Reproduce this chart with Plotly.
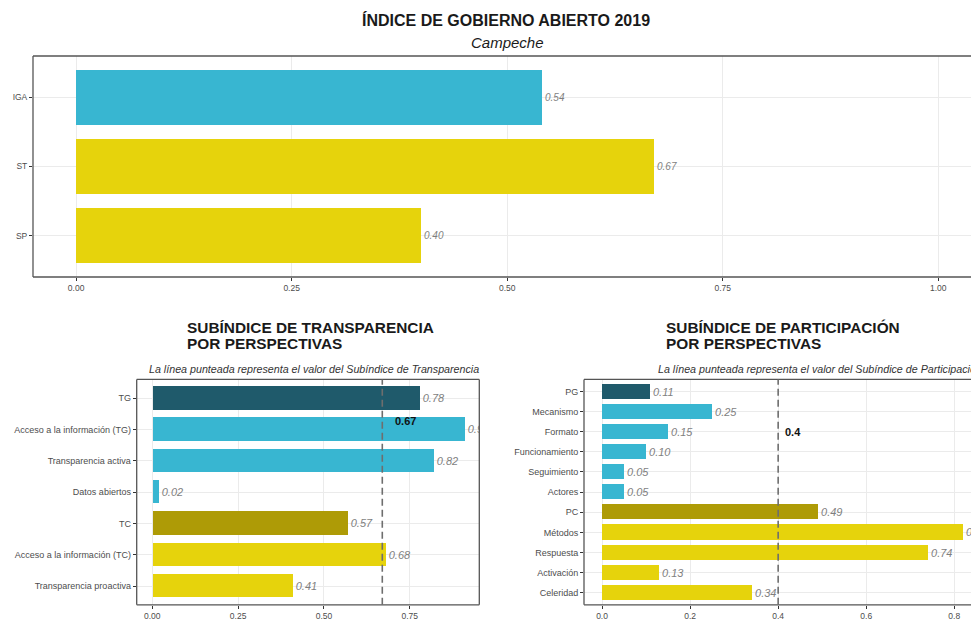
import plotly.graph_objects as go

W, H = 971, 624

# ---------------- data ----------------
top_cats = ["IGA", "ST", "SP"]
top_vals = [0.54, 0.67, 0.40]
top_cols = ["#38B6D1", "#E6D30C", "#E6D30C"]

tr_cats = ["TG", "Acceso a la información (TG)", "Transparencia activa", "Datos abiertos",
           "TC", "Acceso a la información (TC)", "Transparencia proactiva"]
tr_vals = [0.78, 0.91, 0.82, 0.02, 0.57, 0.68, 0.41]
tr_cols = ["#1F5A6B", "#38B6D1", "#38B6D1", "#38B6D1", "#AE9B06", "#E6D30C", "#E6D30C"]
tr_ref = 0.67

pa_cats = ["PG", "Mecanismo", "Formato", "Funcionamiento", "Seguimiento", "Actores",
           "PC", "Métodos", "Respuesta", "Activación", "Celeridad"]
pa_vals = [0.11, 0.25, 0.15, 0.10, 0.05, 0.05, 0.49, 0.82, 0.74, 0.13, 0.34]
pa_cols = ["#1F5A6B", "#38B6D1", "#38B6D1", "#38B6D1", "#38B6D1", "#38B6D1",
           "#AE9B06", "#E6D30C", "#E6D30C", "#E6D30C", "#E6D30C"]
pa_ref = 0.4

FONT = "Liberation Sans, Arial, Helvetica, sans-serif"
GRID = "#EBEBEB"
BORDER = "#555555"
TICKC = "#4D4D4D"
VALC = "#7F7F7F"


def px(x):
    return x / W


def py(y):
    return 1 - y / H


fig = go.Figure()

# top chart
fig.add_trace(go.Bar(
    x=top_vals, y=top_cats, orientation="h", marker=dict(color=top_cols, line=dict(width=0)),
    width=0.8, text=[f"{v:.2f}" for v in top_vals], textposition="outside",
    textfont=dict(family=FONT, size=10, color=VALC, style="italic"),
    constraintext="none", cliponaxis=True, xaxis="x", yaxis="y", hoverinfo="skip",
    showlegend=False))

# transparency
fig.add_trace(go.Bar(
    x=tr_vals, y=tr_cats, orientation="h", marker=dict(color=tr_cols, line=dict(width=0)),
    width=0.75, text=[f"{v:.2f}" for v in tr_vals], textposition="outside",
    textfont=dict(family=FONT, size=11, color=VALC, style="italic"),
    constraintext="none", cliponaxis=True, xaxis="x2", yaxis="y2", hoverinfo="skip",
    showlegend=False))

# participation
fig.add_trace(go.Bar(
    x=pa_vals, y=pa_cats, orientation="h", marker=dict(color=pa_cols, line=dict(width=0)),
    width=0.75, text=[f"{v:.2f}" for v in pa_vals], textposition="outside",
    textfont=dict(family=FONT, size=11, color=VALC, style="italic"),
    constraintext="none", cliponaxis=True, xaxis="x3", yaxis="y3", hoverinfo="skip",
    showlegend=False))

axis_common = dict(showgrid=True, gridcolor=GRID, gridwidth=1, zeroline=False,
                   showline=False, ticks="outside", ticklen=3, tickcolor="#333333",
                   automargin=False, fixedrange=True)

fig.update_layout(
    width=W, height=H, margin=dict(l=0, r=0, t=0, b=0),
    paper_bgcolor="white", plot_bgcolor="white",
    font=dict(family=FONT, color=TICKC),
    bargap=0,
    xaxis=dict(domain=[px(33), 1], range=[-0.05, (971 - 76.7) / 861.6], anchor="y",
               tickvals=[0, 0.25, 0.5, 0.75, 1.0], tickformat=".2f",
               tickfont=dict(size=8.5, color=TICKC), **axis_common),
    yaxis=dict(domain=[py(277), py(56)], anchor="x", type="category",
               categoryarray=top_cats[::-1], range=[-0.6, len(top_cats) - 0.4],
               tickfont=dict(size=8.5, color=TICKC), **axis_common),
    xaxis2=dict(domain=[px(136.7), px(479.3)], range=[-0.0454, 0.9526], anchor="y2",
                tickvals=[0, 0.25, 0.5, 0.75], tickformat=".2f",
                tickfont=dict(size=8.5, color=TICKC), **axis_common),
    yaxis2=dict(domain=[py(604.8), py(379.4)], anchor="x2", type="category",
                categoryarray=tr_cats[::-1], range=[-0.6, len(tr_cats) - 0.4],
                tickfont=dict(size=9, color=TICKC), **axis_common),
    xaxis3=dict(domain=[px(584), 1], range=[-0.041, (971 - 601.7) / 440.7], anchor="y3",
                tickvals=[0, 0.2, 0.4, 0.6, 0.8], tickformat=".1f",
                tickfont=dict(size=8.5, color=TICKC), **axis_common),
    yaxis3=dict(domain=[py(604.8), py(379.4)], anchor="x3", type="category",
                categoryarray=pa_cats[::-1], range=[-0.6, len(pa_cats) - 0.4],
                tickfont=dict(size=9, color=TICKC), **axis_common),
)

shapes = []


def line(x0, y0, x1, y1):
    shapes.append(dict(type="line", xref="paper", yref="paper",
                       x0=px(x0), y0=py(y0), x1=px(x1), y1=py(y1),
                       line=dict(color=BORDER, width=1.3), layer="above"))


# top panel border (right side is off-canvas)
line(33, 56, 975, 56)
line(33, 277, 975, 277)
line(33, 56, 33, 277)
# transparency panel
line(136.7, 379.4, 479.3, 379.4)
line(136.7, 604.8, 479.3, 604.8)
line(136.7, 379.4, 136.7, 604.8)
line(479.3, 379.4, 479.3, 604.8)
# participation panel
line(584, 379.4, 975, 379.4)
line(584, 604.8, 975, 604.8)
line(584, 379.4, 584, 604.8)

# reference dashed lines
shapes.append(dict(type="line", xref="x2", yref="y2 domain", x0=tr_ref, x1=tr_ref, y0=0, y1=1,
                   line=dict(color="#6E6E6E", width=1.6, dash="7px,4px"), layer="above"))
shapes.append(dict(type="line", xref="x3", yref="y3 domain", x0=pa_ref, x1=pa_ref, y0=0, y1=1,
                   line=dict(color="#6E6E6E", width=1.6, dash="7px,4px"), layer="above"))

fig.update_layout(shapes=shapes)

ann = []
ann.append(dict(text="<b>ÍNDICE DE GOBIERNO ABIERTO 2019</b>", x=px(505.5), y=py(19.5),
                xref="paper", yref="paper", xanchor="center", yanchor="middle",
                showarrow=False, font=dict(family=FONT, size=16, color="#1A1A1A")))
ann.append(dict(text="<i>Campeche</i>", x=px(508), y=py(43), xref="paper", yref="paper",
                xanchor="center", yanchor="middle", showarrow=False,
                font=dict(family=FONT, size=15, color="#1A1A1A")))

for txt, x, y in [("SUBÍNDICE DE TRANSPARENCIA", 185, 327.5), ("POR PERSPECTIVAS", 185, 343.5),
                  ("SUBÍNDICE DE PARTICIPACIÓN", 664.3, 327.5), ("POR PERSPECTIVAS", 664.3, 343.5)]:
    ann.append(dict(text=f"<b>{txt}</b>", x=px(x), y=py(y), xref="paper", yref="paper",
                    xanchor="left", yanchor="middle", showarrow=False,
                    font=dict(family=FONT, size=15.4, color="#1A1A1A")))

ann.append(dict(text="<i>La línea punteada representa el valor del Subíndice de Transparencia</i>",
                x=px(481), y=py(369), xref="paper", yref="paper", xanchor="right",
                yanchor="middle", showarrow=False, font=dict(family=FONT, size=10.7, color="#333333")))
ann.append(dict(text="<i>La línea punteada representa el valor del Subíndice de Participación</i>",
                x=px(984), y=py(369), xref="paper", yref="paper", xanchor="right",
                yanchor="middle", showarrow=False, font=dict(family=FONT, size=10.7, color="#333333")))

# reference value labels
ann.append(dict(text=f"<b>{tr_ref}</b>", x=tr_ref + 0.067, y=5.28, xref="x2", yref="y2",
                xanchor="center", yanchor="middle", showarrow=False,
                font=dict(family=FONT, size=11, color="#111111")))
ann.append(dict(text=f"<b>{pa_ref}</b>", x=pa_ref + 0.034, y=8, xref="x3", yref="y3",
                xanchor="center", yanchor="middle", showarrow=False,
                font=dict(family=FONT, size=11, color="#111111")))

fig.update_layout(annotations=ann)

fig.write_html(
    "out.html",
    config={"displayModeBar": False},
    post_script="document.body.style.margin='0';document.body.style.padding='0';"
                "document.body.style.overflow='hidden';",
)
